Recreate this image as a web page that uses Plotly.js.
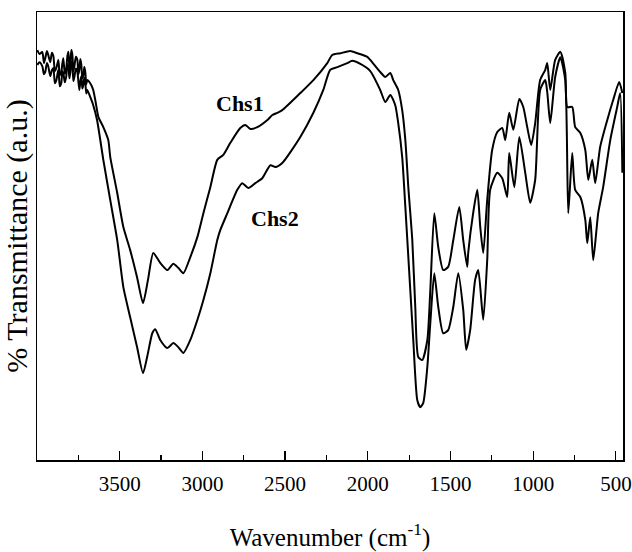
<!DOCTYPE html>
<html>
<head>
<meta charset="utf-8">
<script src="https://cdn.plot.ly/plotly-3.0.1.min.js"></script>
<style>html,body{margin:0;padding:0;background:#fff;}#chart{width:632px;height:552px;}</style>
</head>
<body>
<div id="chart"></div>
<script>
// Wavenumber (cm-1) and transmittance (a.u.)
var chs1Wn = [3998,3985,3968,3958,3950,3940,3932,3920,3910,3901,3892,3883,3871,3862,3853,3847,3841,3832,3823,3816,3810,3804,3798,3792,3786,3780,3774,3765,3756,3750,3744,3738,3732,3726,3720,3714,3708,3702,3696,3680,3660,3645,3629,3599,3569,3557,3515,3478,3437,3395,3359,3329,3297,3255,3212,3176,3146,3115,3073,3030,2994,2952,2910,2874,2831,2771,2741,2710,2668,2607,2577,2547,2517,2408,2329,2245,2215,2166,2106,2063,2003,1985,1925,1894,1864,1846,1816,1792,1773,1755,1731,1713,1695,1671,1640,1622,1598,1574,1544,1514,1483,1447,1423,1399,1393,1363,1338,1320,1302,1278,1248,1217,1187,1169,1145,1120,1084,1060,1036,1012,988,958,927,915,897,867,836,806,794,764,746,715,685,667,643,625,595,552,516,480,461];
var chs1T = [91.5,90.6,91.1,88.6,89.7,91.3,90.4,88.8,90.9,90.2,86.8,87.5,89.3,85.9,86.6,88.4,89.7,86.2,87.5,90.2,91.1,87.3,88.8,91.5,90.4,86.8,87.9,90.0,89.3,86.1,87.1,89.5,88.2,85.2,85.7,87.7,86.6,83.9,84.8,84.2,82.6,79.8,76.6,74.3,71.4,67.6,59.6,52.0,46.9,40.8,35.0,40.2,46.2,44.0,42.4,43.8,42.9,41.7,45.3,49.8,55.1,60.9,67.0,68.1,70.8,74.1,74.8,73.9,74.3,75.9,77.0,77.5,78.1,81.9,84.8,88.6,90.4,90.8,91.3,90.8,90.0,89.3,86.6,85.5,86.4,84.8,82.6,78.1,71.4,60.9,49.1,34.2,23.0,22.3,26.8,37.9,55.1,47.5,42.4,43.1,49.1,56.5,49.1,43.1,46.2,55.1,60.3,52.0,46.2,58.0,69.2,73.2,74.1,71.4,77.5,73.7,80.6,78.8,74.3,70.3,75.2,84.8,87.1,88.6,82.6,89.3,91.1,86.4,78.8,78.8,74.3,73.0,69.2,62.5,67.0,61.8,69.9,75.9,80.4,84.4,81.9];

var chs2Wn = [3998,3985,3968,3958,3950,3940,3932,3920,3910,3901,3892,3883,3871,3862,3853,3847,3841,3832,3823,3816,3810,3804,3798,3792,3786,3780,3774,3765,3756,3744,3738,3732,3726,3720,3714,3708,3702,3696,3680,3660,3637,3599,3557,3515,3478,3437,3395,3359,3329,3303,3285,3255,3212,3176,3146,3115,3073,3030,2994,2952,2910,2892,2849,2789,2759,2722,2680,2638,2589,2559,2517,2408,2329,2269,2227,2184,2124,2094,2045,1985,1925,1894,1864,1834,1816,1792,1773,1743,1725,1701,1683,1665,1640,1622,1598,1574,1544,1514,1483,1453,1423,1405,1381,1351,1332,1302,1278,1260,1217,1187,1157,1145,1114,1084,1048,1018,988,958,927,915,897,867,836,806,788,764,746,715,685,673,655,637,607,577,534,492,474,461];
var chs2T = [88.2,88.8,87.9,86.1,86.6,88.6,87.9,85.7,87.0,87.5,84.1,84.8,87.1,83.4,84.2,86.8,86.4,84.3,85.7,88.4,87.9,85.2,86.6,88.9,88.2,84.6,85.5,87.4,86.6,82.6,84.5,85.7,82.9,83.7,85.3,84.2,81.8,82.6,81.2,79.2,75.9,67.0,58.0,49.1,38.6,31.9,25.2,19.4,23.9,28.3,29.2,26.8,25.0,26.1,25.2,23.9,26.8,31.3,35.7,41.7,49.1,51.3,55.1,60.3,61.8,60.7,61.8,62.9,65.8,65.4,66.3,72.1,77.5,82.6,87.1,87.7,88.6,89.1,88.4,86.8,82.6,79.9,81.5,79.2,75.2,67.6,56.5,37.9,26.8,13.4,11.8,12.7,20.8,30.6,41.7,34.2,28.3,29.0,34.2,41.7,33.5,24.6,29.0,40.2,42.4,31.3,44.6,60.3,64.1,62.9,58.7,68.5,60.9,72.1,64.1,57.4,62.5,82.6,84.8,82.1,75.2,85.5,89.9,84.8,55.1,68.5,60.3,58.7,53.6,48.4,54.2,44.6,55.1,60.9,71.4,78.8,81.9,64.1];

var seriesNames = ['Chs1', 'Chs2'];
var majorTicks = [3500, 3000, 2500, 2000, 1500, 1000, 500];
var minorTicks = [3750, 3250, 2750, 2250, 1750, 1250, 750];
var labelPos = {Chs1: [2771, 79.5], Chs2: [2559, 53.8]};

var serif = 'Liberation Serif, Times New Roman, serif';
var lineStyle = {color: '#000', width: 2, shape: 'spline', smoothing: 0.6};

var traces = [
  {x: chs1Wn, y: chs1T, mode: 'lines', name: seriesNames[0], line: lineStyle, hoverinfo: 'skip'},
  {x: chs2Wn, y: chs2T, mode: 'lines', name: seriesNames[1], line: lineStyle, hoverinfo: 'skip'}
];

var annotations = seriesNames.map(function (n) {
  return {x: labelPos[n][0], y: labelPos[n][1], xref: 'x', yref: 'y', text: '<b>' + n + '</b>',
          showarrow: false, font: {family: serif, size: 22, color: '#000'}};
});

var layout = {
  width: 632, height: 552,
  margin: {l: 37, r: 9, t: 12, b: 92},
  paper_bgcolor: '#fff', plot_bgcolor: '#fff',
  showlegend: false,
  font: {family: serif, color: '#000'},
  xaxis: {
    range: [4000, 457], autorange: false,
    tickmode: 'array', tickvals: majorTicks, ticktext: majorTicks.map(String),
    ticks: 'inside', ticklen: 9, tickwidth: 1.2, tickcolor: '#000',
    minor: {tickmode: 'array', tickvals: minorTicks, ticks: 'inside', ticklen: 5, tickwidth: 1.2, tickcolor: '#000', showgrid: false},
    showline: true, linecolor: '#000', linewidth: 1.5, mirror: true,
    showgrid: false, zeroline: false,
    tickfont: {family: serif, size: 21, color: '#000'},
    ticklabelstandoff: 4,
    title: {text: 'Wavenumber (cm<sup>-1</sup>)', font: {family: serif, size: 25, color: '#000'}, standoff: 34},
    automargin: false
  },
  yaxis: {
    range: [0, 100], autorange: false,
    showticklabels: false, ticks: '',
    showline: true, linecolor: '#000', linewidth: 1.5, mirror: true,
    showgrid: false, zeroline: false,
    title: {text: '% Transmittance (a.u.)', font: {family: serif, size: 30, color: '#000'}, standoff: 2},
    automargin: false
  },
  annotations: annotations
};

Plotly.newPlot('chart', traces, layout, {displayModeBar: false, staticPlot: true});
</script>
</body>
</html>
